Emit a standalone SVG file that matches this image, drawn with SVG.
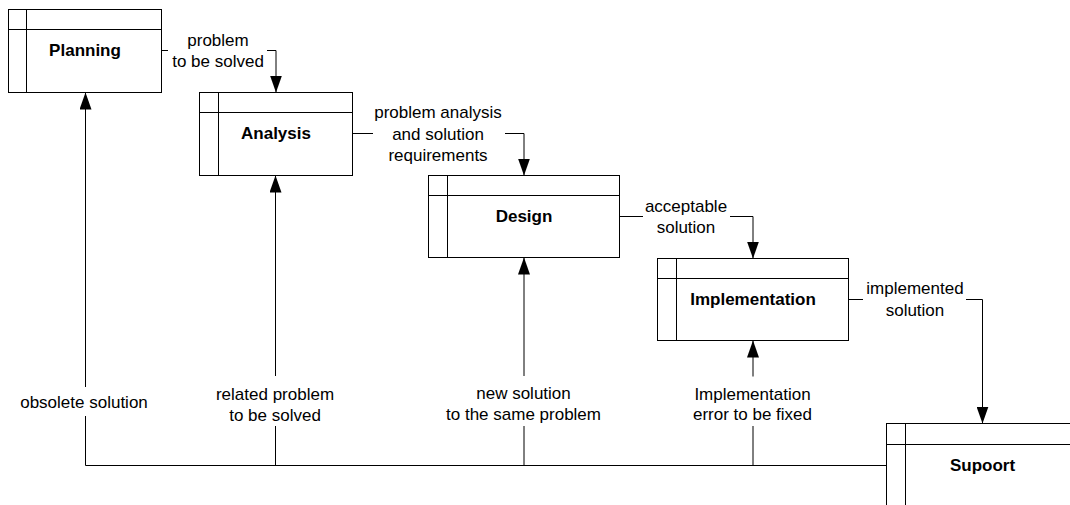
<svg xmlns="http://www.w3.org/2000/svg" width="1070" height="505" viewBox="0 0 1070 505">
<style>
.box{fill:#fff;stroke:#000;stroke-width:1}
.div{stroke:#000;stroke-width:1;fill:none}
.title{font-family:"Liberation Sans",Arial,sans-serif;font-size:17px;font-weight:bold;text-anchor:middle;fill:#000}
.lbl{font-family:"Liberation Sans",Arial,sans-serif;font-size:17px;text-anchor:middle;fill:#000}
.con{stroke:#000;stroke-width:1;fill:none}
</style>
<defs>
<marker id="arr" markerUnits="userSpaceOnUse" markerWidth="17" markerHeight="12" refX="17" refY="6" orient="auto">
<path d="M0,0 L17,6 L0,12 z" fill="#000"/>
</marker>
</defs>
<rect width="1070" height="505" fill="#fff"/>
<g id="connectors">
<path class="con" d="M161.5,50.5 H168 M267,50.5 H276 V92.5" marker-end="url(#arr)"/>
<path class="con" d="M352.5,133.5 H373 M505,133.5 H524 V175.5" marker-end="url(#arr)"/>
<path class="con" d="M619.5,216.5 H643 M730,216.5 H753 V258.5" marker-end="url(#arr)"/>
<path class="con" d="M848.5,299.5 H863 M966,299.5 H982.5 V423.5" marker-end="url(#arr)"/>
<path class="con" d="M85.5,465.5 H886.5"/>
<path class="con" d="M85.5,465.5 V416 M85.5,387 V92.5" marker-end="url(#arr)"/>
<path class="con" d="M275.5,465.5 V426 M275.5,376 V175.5" marker-end="url(#arr)"/>
<path class="con" d="M524,465.5 V426 M524,376 V257.5" marker-end="url(#arr)"/>
<path class="con" d="M753,465.5 V426 M753,376.5 V340.5" marker-end="url(#arr)"/>
<g id="labels">
<text class="lbl" x="218" y="45.5">problem</text>
<text class="lbl" x="218" y="66.5">to be solved</text>
<text class="lbl" x="438" y="118">problem analysis</text>
<text class="lbl" x="438" y="139.5">and solution</text>
<text class="lbl" x="438" y="161">requirements</text>
<text class="lbl" x="686" y="211.5">acceptable</text>
<text class="lbl" x="686" y="232.5">solution</text>
<text class="lbl" x="915" y="294">implemented</text>
<text class="lbl" x="915" y="315.5">solution</text>
<text class="lbl" x="84" y="408">obsolete solution</text>
<text class="lbl" x="275" y="400">related problem</text>
<text class="lbl" x="275" y="421">to be solved</text>
<text class="lbl" x="523.5" y="399">new solution</text>
<text class="lbl" x="523.5" y="420">to the same problem</text>
<text class="lbl" x="752.5" y="399.5">Implementation</text>
<text class="lbl" x="752.5" y="420">error to be fixed</text>
</g>
</g>
<g id="planning">
<rect class="box" x="8.5" y="9.5" width="153" height="83"/>
<path class="div" d="M26.5,9.5 V92.5 M8.5,29.5 H161.5"/>
<text class="title" x="85" y="56">Planning</text>
</g>
<g id="analysis">
<rect class="box" x="199.5" y="92.5" width="153" height="83"/>
<path class="div" d="M218.5,92.5 V175.5 M199.5,112.5 H352.5"/>
<text class="title" x="276" y="139">Analysis</text>
</g>
<g id="design">
<rect class="box" x="428.5" y="175.5" width="191" height="82"/>
<path class="div" d="M447.5,175.5 V257.5 M428.5,195.5 H619.5"/>
<text class="title" x="524" y="222">Design</text>
</g>
<g id="implementation">
<rect class="box" x="657.5" y="258.5" width="191" height="82"/>
<path class="div" d="M676.5,258.5 V340.5 M657.5,278.5 H848.5"/>
<text class="title" x="753" y="305">Implementation</text>
</g>
<g id="support">
<rect class="box" x="886.5" y="423.5" width="192" height="83"/>
<path class="div" d="M905.5,423.5 V506.5 M886.5,444.5 H1078.5"/>
<text class="title" x="982.5" y="470.5">Supoort</text>
</g>
</svg>
